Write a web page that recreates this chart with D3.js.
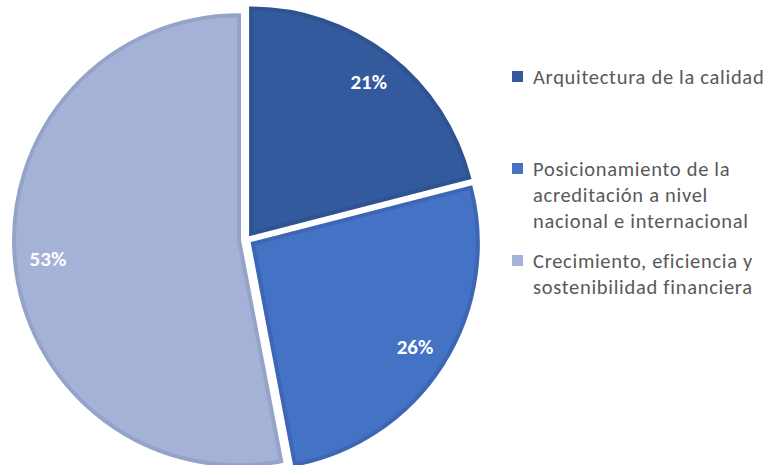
<!DOCTYPE html>
<html>
<head>
<meta charset="utf-8">
<script src="https://cdn.jsdelivr.net/npm/d3@7"></script>
<style>
  body { margin: 0; background: #fff; }
  svg { display: block; font-family: Carlito, Lato, 'Open Sans', sans-serif; }
</style>
</head>
<body>
<div id="chart"></div>
<script>
const categories = [
  'Arquitectura de la calidad',
  'Posicionamiento de la\nacreditación a nivel\nnacional e internacional',
  'Crecimiento, eficiencia y\nsostenibilidad financiera'
];
const values = [21, 26, 53];

const fills = ['#335A9D', '#4472C4', '#A5B2D8'];
const borders = ['#2F5290', '#3D67B3', '#96A3C9'];

const W = 765, H = 465;
const svg = d3.select('#chart').append('svg').attr('width', W).attr('height', H);

const cx = 246.5, cy = 239.5, r = 225, explode = 7.5;
const pie = d3.pie().sort(null).value(d => d);
const arcs = pie(values);
const arc = d3.arc().innerRadius(0).outerRadius(r);
const total = d3.sum(values);

const g = svg.append('g').attr('transform', `translate(${cx},${cy})`);

const slices = g.selectAll('g.slice').data(arcs).enter().append('g')
  .attr('class', 'slice')
  .attr('transform', d => {
    const a = (d.startAngle + d.endAngle) / 2;
    return `translate(${explode * Math.sin(a)},${-explode * Math.cos(a)})`;
  });

slices.append('path')
  .attr('d', arc)
  .attr('fill', (_, i) => fills[i])
  .attr('stroke', (_, i) => borders[i])
  .attr('stroke-width', 4)
  .attr('stroke-linejoin', 'miter');

slices.append('text')
  .attr('transform', d => {
    const a = (d.startAngle + d.endAngle) / 2, lr = 192;
    return `translate(${lr * Math.sin(a)},${-lr * Math.cos(a)})`;
  })
  .attr('text-anchor', 'middle').attr('dy', '0.35em')
  .attr('fill', '#fff').attr('font-weight', 'bold').attr('font-size', '21px')
  .text(d => Math.round(d.value / total * 100) + '%');

// legend
const lineH = 26, maxLines = d3.max(categories, c => c.split('\n').length);
const slot = maxLines * lineH + 14;
const legend = svg.append('g').attr('transform', 'translate(512,77)');
const items = legend.selectAll('g').data(categories).enter().append('g')
  .attr('transform', (_, i) => `translate(0,${i * slot})`);

items.append('rect').attr('x', 0).attr('y', -6).attr('width', 11).attr('height', 11)
  .attr('fill', (_, i) => fills[i]);

items.append('text')
  .attr('fill', '#595959').attr('font-size', '20.5px').attr('letter-spacing', '0.7px')
  .each(function(d) {
    const el = d3.select(this);
    d.split('\n').forEach((line, i) => {
      el.append('tspan').attr('x', 21).attr('y', i * lineH).attr('dy', '0.35em').text(line);
    });
  });
</script>
</body>
</html>
